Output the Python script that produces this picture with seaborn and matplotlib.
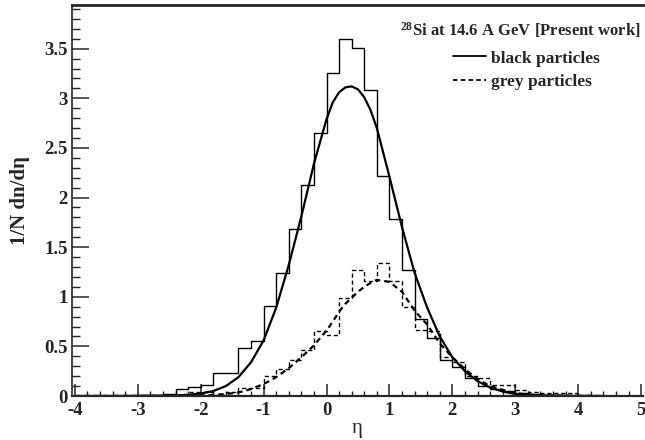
import numpy as np
import pandas as pd
import matplotlib
matplotlib.use("Agg")
import matplotlib.pyplot as plt
from matplotlib.ticker import MultipleLocator
import seaborn as sns

# histogram bins (eta), width 0.2 from -4 to 5
bin_edges = [round(-4.0 + 0.2 * i, 2) for i in range(46)]
bin_centers = [e + 0.1 for e in bin_edges[:-1]]

black_hist = [0.0, 0.0, 0.0, 0.003, 0.005, 0.008, 0.012, 0.018, 0.068, 0.092,
              0.11, 0.236, 0.236, 0.48, 0.553, 0.905, 1.236, 1.68, 2.13, 2.65,
              3.25, 3.60, 3.51, 3.08, 2.22, 1.78, 1.27, 0.777, 0.585, 0.365,
              0.297, 0.18, 0.10, 0.068, 0.048, 0.034, 0.02, 0.012, 0.008, 0.005,
              0.003, 0.0, 0.0, 0.0, 0.0]
grey_hist = [0.0, 0.0, 0.0, 0.0, 0.0, 0.003, 0.005, 0.008, 0.012, 0.04,
             0.04, 0.015, 0.045, 0.085, 0.085, 0.20, 0.27, 0.36, 0.46, 0.65,
             0.61, 0.99, 1.27, 1.16, 1.34, 1.16, 0.90, 0.67, 0.66, 0.39,
             0.34, 0.20, 0.18, 0.11, 0.11, 0.06, 0.04, 0.035, 0.035, 0.03,
             0.01, 0.0, 0.0, 0.0, 0.0]

# fitted curves
eta_fit = [-4.0, -3.0, -2.6, -2.4, -2.2, -2.0, -1.8, -1.6, -1.4, -1.2, -1.0, -0.8,
           -0.6, -0.4, -0.2, 0.0, 0.1, 0.2, 0.3, 0.4, 0.5, 0.6, 0.7, 0.8, 1.0,
           1.2, 1.4, 1.6, 1.8, 2.0, 2.2, 2.4, 2.6, 2.8, 3.0, 3.2, 3.6, 4.0, 4.4]
black_fit = [0.0, 0.001, 0.003, 0.006, 0.012, 0.025, 0.05, 0.10, 0.19, 0.34, 0.56, 0.89,
             1.32, 1.81, 2.34, 2.79, 2.96, 3.06, 3.11, 3.12, 3.09, 3.01, 2.88, 2.70, 2.21,
             1.70, 1.24, 0.89, 0.60, 0.39, 0.25, 0.15, 0.085, 0.045, 0.02, 0.01, 0.003, 0.001, 0.0]
grey_fit = [0.0, 0.001, 0.002, 0.003, 0.004, 0.006, 0.01, 0.02, 0.035, 0.07, 0.12, 0.19,
            0.28, 0.39, 0.51, 0.66, 0.75, 0.85, 0.93, 0.99, 1.05, 1.10, 1.14, 1.17, 1.15,
            1.05, 0.86, 0.72, 0.53, 0.39, 0.27, 0.17, 0.10, 0.06, 0.03, 0.015, 0.004, 0.001, 0.0]

hist_df = pd.DataFrame({"eta": bin_centers, "black": black_hist, "grey": grey_hist})

sns.set_style("ticks")
plt.rcParams['font.family'] = ['Liberation Serif', 'DejaVu Serif']
plt.rcParams['axes.unicode_minus'] = False
plt.rcParams['mathtext.fontset'] = 'custom'
plt.rcParams['mathtext.rm'] = 'Liberation Serif:bold'
plt.rcParams['mathtext.bf'] = 'Liberation Serif:bold'
plt.rcParams['mathtext.it'] = 'Liberation Serif:bold'

fig = plt.figure(figsize=(6.45, 4.4), dpi=100)
ax = fig.add_axes([71.7 / 645, 44 / 440, (643 - 71.7) / 645, 391 / 440])

sns.histplot(data=hist_df, x="eta", weights="black", bins=bin_edges, element="step",
             fill=False, color="black", linewidth=1.0, ax=ax)
sns.histplot(data=hist_df, x="eta", weights="grey", bins=bin_edges, element="step",
             fill=False, color="black", linewidth=1.0, linestyle=(0, (3, 2)), ax=ax)
sns.lineplot(x=eta_fit, y=black_fit, color="black", linewidth=1.6, ax=ax,
             label="black particles")
sns.lineplot(x=eta_fit, y=grey_fit, color="black", linewidth=1.6,
             linestyle=(0, (2.5, 1.8)), ax=ax, label="grey particles")

ax.set_xlim(-4.05, 5.03)
ax.set_ylim(0, 3.94)
ax.xaxis.set_major_locator(MultipleLocator(1))
ax.xaxis.set_minor_locator(MultipleLocator(0.2))
ax.yaxis.set_major_locator(MultipleLocator(0.5))
ax.yaxis.set_minor_locator(MultipleLocator(0.1))
ax.yaxis.set_major_formatter(plt.FuncFormatter(lambda v, p: f"{v:g}"))
ax.tick_params(axis="x", which="major", direction="in", length=8.5, width=1.1, pad=4,
               labelsize=13.5, top=False)
ax.tick_params(axis="x", which="minor", direction="in", length=3.8, width=1.0, top=False)
ax.tick_params(axis="y", which="major", direction="in", length=12, width=1.1, pad=3,
               labelsize=13.5, right=False)
ax.tick_params(axis="y", which="minor", direction="in", length=6, width=1.0, right=False)
for lab in ax.get_xticklabels() + ax.get_yticklabels():
    lab.set_fontweight("bold")

ax.spines["right"].set_visible(False)
ax.spines["top"].set_linewidth(2.0)
ax.spines["bottom"].set_linewidth(1.6)
ax.spines["left"].set_linewidth(1.2)

ax.set_xlabel("η", fontsize=15, labelpad=0)
ax.set_ylabel("1/N dn/dη", fontsize=15, fontweight="bold", labelpad=10)

ax.text(0.995, 0.935, r"$^{28}$Si at 14.6 A GeV [Present work]", transform=ax.transAxes,
        ha="right", va="center", fontsize=12, fontweight="bold")
leg = ax.legend(loc="upper left", bbox_to_anchor=(0.667, 0.884), frameon=False,
                handlelength=1.9, handletextpad=0.3, labelspacing=0.4, borderpad=0,
                borderaxespad=0, prop={"family": "Liberation Serif", "weight": "bold", "size": 12.5})
for line in leg.get_lines():
    line.set_linewidth(1.3)

fig.savefig("out.png", dpi=100)
